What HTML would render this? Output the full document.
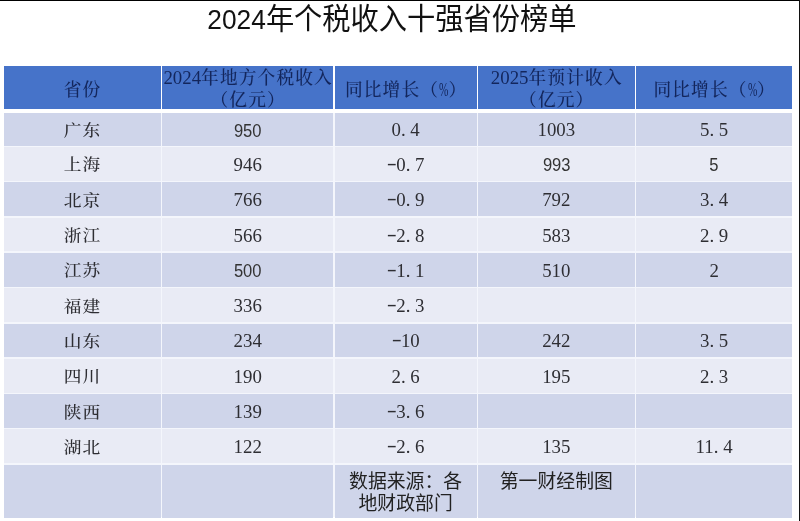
<!DOCTYPE html>
<html lang="zh-CN">
<head>
<meta charset="utf-8">
<title>2024年个税收入十强省份榜单</title>
<style>
html,body{margin:0;padding:0;}
body{width:800px;height:521px;position:relative;overflow:hidden;background:#fff;
  font-family:"Liberation Serif","Noto Serif CJK SC",serif;color:#1a1a1a;}
.frame-top{position:absolute;left:0;top:0;width:800px;height:1px;background:#000;}
.frame-right{position:absolute;left:799px;top:0;width:1px;height:521px;background:#111;}
h1{position:absolute;left:0;top:0.8px;width:784px;transform:scaleY(1.05);margin:0;text-align:center;
  font-family:"Liberation Sans","Noto Sans CJK SC",sans-serif;font-weight:400;
  font-size:28.25px;line-height:36px;color:#111;white-space:nowrap;}
h1 b{font-weight:400;font-size:26.3px;}
.cell{position:absolute;box-sizing:border-box;display:flex;align-items:center;justify-content:center;text-align:center;white-space:nowrap;font-size:18.85px;}
.cell i{font-style:normal;display:inline-block;width:0.5em;}
.cell i.d{text-align:left;}
.cell i.m{text-align:center;transform:translateY(-1.4px) scaleX(1.6);}
.tbg{position:absolute;left:3.5px;top:113px;width:788.7px;height:404px;background:#f4f6fc;}
.hd{background:#4673c9;color:#13265c;font-weight:500;line-height:22px;padding-top:3px;font-size:17.7px;letter-spacing:1.15px;padding-left:1px;}
.hd b,.hd i{font-weight:400;font-style:normal;font-size:18.85px;letter-spacing:0;}
.h1l{padding-top:5px;}
.hd b.p{display:inline-block;width:9.4px;transform:scaleX(.6);transform-origin:0 50%;text-align:left;}
.a{background:#cfd5ea;}
.b{background:#e9ebf5;}
.cn span,.num span,.pct span{display:inline-block;}
.cn span{transform:translateY(-0.2px) scaleY(0.92);}
.num span{transform:translateY(1.5px) scaleX(0.94);}
.pct span{transform:translateY(1.1px) scaleY(0.95);}
.cn{font-weight:500;color:#2e2e33;font-size:17.7px;letter-spacing:1.15px;padding-left:1px;}
.num{font-family:"Liberation Sans","Noto Sans CJK SC",sans-serif;font-size:17.6px;color:#333;}
.pct{color:#2e2e33;}
.ft{font-family:"Liberation Sans","Noto Sans CJK SC",sans-serif;line-height:22px;color:#222;align-items:flex-start;padding-top:6.5px;}
</style>
</head>
<body>
<h1><b>2024</b>年个税收入十强省份榜单</h1>
<div id="t">
<div class="tbg"></div>
<div class="cell hd h1l" style="left:3.50px;top:65.50px;width:157.20px;height:43.70px"><span>省份</span></div>
<div class="cell a cn" style="left:3.50px;top:113.00px;width:157.20px;height:32.60px"><span>广东</span></div>
<div class="cell b cn" style="left:3.50px;top:147.00px;width:157.20px;height:33.90px"><span>上海</span></div>
<div class="cell a cn" style="left:3.50px;top:182.30px;width:157.20px;height:33.90px"><span>北京</span></div>
<div class="cell b cn" style="left:3.50px;top:217.60px;width:157.20px;height:33.90px"><span>浙江</span></div>
<div class="cell a cn" style="left:3.50px;top:252.90px;width:157.20px;height:33.90px"><span>江苏</span></div>
<div class="cell b cn" style="left:3.50px;top:288.20px;width:157.20px;height:33.90px"><span>福建</span></div>
<div class="cell a cn" style="left:3.50px;top:323.50px;width:157.20px;height:33.90px"><span>山东</span></div>
<div class="cell b cn" style="left:3.50px;top:358.80px;width:157.20px;height:33.90px"><span>四川</span></div>
<div class="cell a cn" style="left:3.50px;top:394.10px;width:157.20px;height:33.90px"><span>陕西</span></div>
<div class="cell b cn" style="left:3.50px;top:429.40px;width:157.20px;height:33.90px"><span>湖北</span></div>
<div class="cell a ft" style="left:3.50px;top:464.70px;width:157.20px;height:52.90px"></div>
<div class="cell hd" style="left:162.10px;top:65.50px;width:171.20px;height:43.70px"><span><b>2024</b>年地方个税收入<br>（亿元）</span></div>
<div class="cell a num" style="left:162.10px;top:113.00px;width:171.20px;height:32.60px"><span>950</span></div>
<div class="cell b pct" style="left:162.10px;top:147.00px;width:171.20px;height:33.90px"><span>946</span></div>
<div class="cell a pct" style="left:162.10px;top:182.30px;width:171.20px;height:33.90px"><span>766</span></div>
<div class="cell b pct" style="left:162.10px;top:217.60px;width:171.20px;height:33.90px"><span>566</span></div>
<div class="cell a num" style="left:162.10px;top:252.90px;width:171.20px;height:33.90px"><span>500</span></div>
<div class="cell b pct" style="left:162.10px;top:288.20px;width:171.20px;height:33.90px"><span>336</span></div>
<div class="cell a pct" style="left:162.10px;top:323.50px;width:171.20px;height:33.90px"><span>234</span></div>
<div class="cell b pct" style="left:162.10px;top:358.80px;width:171.20px;height:33.90px"><span>190</span></div>
<div class="cell a pct" style="left:162.10px;top:394.10px;width:171.20px;height:33.90px"><span>139</span></div>
<div class="cell b pct" style="left:162.10px;top:429.40px;width:171.20px;height:33.90px"><span>122</span></div>
<div class="cell a ft" style="left:162.10px;top:464.70px;width:171.20px;height:52.90px"></div>
<div class="cell hd h1l" style="left:334.70px;top:65.50px;width:141.90px;height:43.70px"><span>同比增长（<b class='p'>%</b>）</span></div>
<div class="cell a pct" style="left:334.70px;top:113.00px;width:141.90px;height:32.60px"><span>0<i class="d">.</i>4</span></div>
<div class="cell b pct" style="left:334.70px;top:147.00px;width:141.90px;height:33.90px"><span><i class="m">-</i>0<i class="d">.</i>7</span></div>
<div class="cell a pct" style="left:334.70px;top:182.30px;width:141.90px;height:33.90px"><span><i class="m">-</i>0<i class="d">.</i>9</span></div>
<div class="cell b pct" style="left:334.70px;top:217.60px;width:141.90px;height:33.90px"><span><i class="m">-</i>2<i class="d">.</i>8</span></div>
<div class="cell a pct" style="left:334.70px;top:252.90px;width:141.90px;height:33.90px"><span><i class="m">-</i>1<i class="d">.</i>1</span></div>
<div class="cell b pct" style="left:334.70px;top:288.20px;width:141.90px;height:33.90px"><span><i class="m">-</i>2<i class="d">.</i>3</span></div>
<div class="cell a pct" style="left:334.70px;top:323.50px;width:141.90px;height:33.90px"><span><i class="m">-</i>10</span></div>
<div class="cell b pct" style="left:334.70px;top:358.80px;width:141.90px;height:33.90px"><span>2<i class="d">.</i>6</span></div>
<div class="cell a pct" style="left:334.70px;top:394.10px;width:141.90px;height:33.90px"><span><i class="m">-</i>3<i class="d">.</i>6</span></div>
<div class="cell b pct" style="left:334.70px;top:429.40px;width:141.90px;height:33.90px"><span><i class="m">-</i>2<i class="d">.</i>6</span></div>
<div class="cell a ft" style="left:334.70px;top:464.70px;width:141.90px;height:52.90px"><span>数据来源：各<br>地财政部门</span></div>
<div class="cell hd" style="left:478.00px;top:65.50px;width:156.60px;height:43.70px"><span><b>2025</b>年预计收入<br>（亿元）</span></div>
<div class="cell a pct" style="left:478.00px;top:113.00px;width:156.60px;height:32.60px"><span>1003</span></div>
<div class="cell b num" style="left:478.00px;top:147.00px;width:156.60px;height:33.90px"><span>993</span></div>
<div class="cell a pct" style="left:478.00px;top:182.30px;width:156.60px;height:33.90px"><span>792</span></div>
<div class="cell b pct" style="left:478.00px;top:217.60px;width:156.60px;height:33.90px"><span>583</span></div>
<div class="cell a pct" style="left:478.00px;top:252.90px;width:156.60px;height:33.90px"><span>510</span></div>
<div class="cell b pct" style="left:478.00px;top:288.20px;width:156.60px;height:33.90px"></div>
<div class="cell a pct" style="left:478.00px;top:323.50px;width:156.60px;height:33.90px"><span>242</span></div>
<div class="cell b pct" style="left:478.00px;top:358.80px;width:156.60px;height:33.90px"><span>195</span></div>
<div class="cell a pct" style="left:478.00px;top:394.10px;width:156.60px;height:33.90px"></div>
<div class="cell b pct" style="left:478.00px;top:429.40px;width:156.60px;height:33.90px"><span>135</span></div>
<div class="cell a ft" style="left:478.00px;top:464.70px;width:156.60px;height:52.90px"><span>第一财经制图</span></div>
<div class="cell hd h1l" style="left:636.00px;top:65.50px;width:156.20px;height:43.70px"><span>同比增长（<b class='p'>%</b>）</span></div>
<div class="cell a pct" style="left:636.00px;top:113.00px;width:156.20px;height:32.60px"><span>5<i class="d">.</i>5</span></div>
<div class="cell b num" style="left:636.00px;top:147.00px;width:156.20px;height:33.90px"><span>5</span></div>
<div class="cell a pct" style="left:636.00px;top:182.30px;width:156.20px;height:33.90px"><span>3<i class="d">.</i>4</span></div>
<div class="cell b pct" style="left:636.00px;top:217.60px;width:156.20px;height:33.90px"><span>2<i class="d">.</i>9</span></div>
<div class="cell a pct" style="left:636.00px;top:252.90px;width:156.20px;height:33.90px"><span>2</span></div>
<div class="cell b pct" style="left:636.00px;top:288.20px;width:156.20px;height:33.90px"></div>
<div class="cell a pct" style="left:636.00px;top:323.50px;width:156.20px;height:33.90px"><span>3<i class="d">.</i>5</span></div>
<div class="cell b pct" style="left:636.00px;top:358.80px;width:156.20px;height:33.90px"><span>2<i class="d">.</i>3</span></div>
<div class="cell a pct" style="left:636.00px;top:394.10px;width:156.20px;height:33.90px"></div>
<div class="cell b pct" style="left:636.00px;top:429.40px;width:156.20px;height:33.90px"><span>11<i class="d">.</i>4</span></div>
<div class="cell a ft" style="left:636.00px;top:464.70px;width:156.20px;height:52.90px"></div>
</div>
<div class="frame-top"></div><div class="frame-right"></div>
</body>
</html>
